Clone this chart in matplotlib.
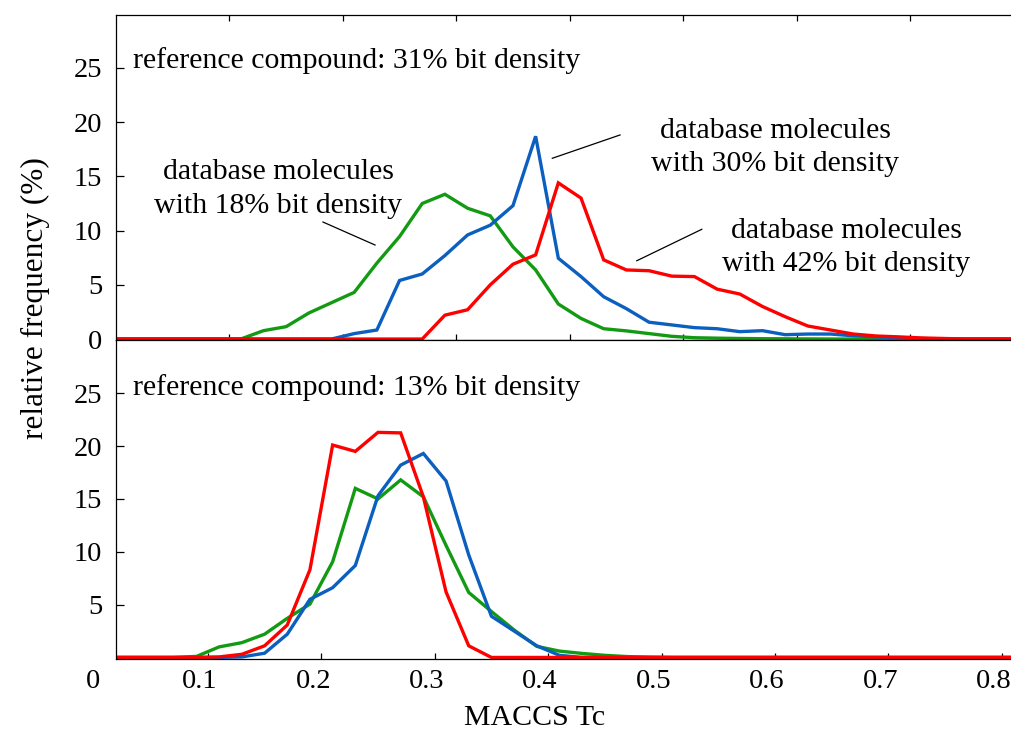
import matplotlib
matplotlib.use("Agg")
import matplotlib.pyplot as plt
from matplotlib.transforms import ScaledTranslation

plt.rcParams['font.family'] = ['Liberation Serif', 'DejaVu Serif']

# bin centres (MACCS Tc)
tc = [-0.01, 0.01, 0.03, 0.05, 0.07, 0.09, 0.11, 0.13, 0.15, 0.17, 0.19,
      0.21, 0.23, 0.25, 0.27, 0.29, 0.31, 0.33, 0.35, 0.37, 0.39,
      0.41, 0.43, 0.45, 0.47, 0.49, 0.51, 0.53, 0.55, 0.57, 0.59,
      0.61, 0.63, 0.65, 0.67, 0.69, 0.71, 0.73, 0.75, 0.77, 0.79, 0.81]

# top panel: reference compound with 31% bit density
top_18 = [0, 0, 0, 0, 0, 0, 0.0, 0.77, 1.14, 2.4, 3.35,
          4.3, 7.0, 9.45, 12.5, 13.35, 12.06, 11.36, 8.5, 6.37, 3.23,
          1.9, 0.95, 0.75, 0.5, 0.25, 0.12, 0.08, 0.05, 0.03, 0.02,
          0.01, 0, 0, 0, 0, 0, 0, 0, 0, 0, 0]
top_30 = [0, 0, 0, 0, 0, 0, 0, 0, 0, 0, 0,
          0.5, 0.83, 5.4, 6.0, 7.7, 9.6, 10.5, 12.3, 18.7, 7.45,
          5.76, 3.9, 2.8, 1.55, 1.3, 1.05, 0.95, 0.68, 0.77, 0.4,
          0.46, 0.46, 0.3, 0.2, 0.12, 0.05, 0, 0, 0, 0, 0]
top_42 = [0, 0, 0, 0, 0, 0, 0, 0, 0, 0, 0,
          0, 0, 0, 0, 2.2, 2.7, 5.0, 6.9, 7.76, 14.4,
          13.0, 7.3, 6.37, 6.3, 5.8, 5.76, 4.6, 4.15, 3.0, 2.06,
          1.2, 0.83, 0.46, 0.28, 0.2, 0.1, 0.05, 0, 0, 0, 0]

# bottom panel: reference compound with 13% bit density
bot_18 = [0, 0, 0, 0, 0, 0.1, 1.0, 1.4, 2.2, 3.7, 5.05,
          9.05, 16.0, 15.0, 16.8, 15.2, 10.6, 6.15, 4.35, 2.6, 1.05,
          0.6, 0.38, 0.2, 0.08, 0.03, 0, 0, 0, 0, 0,
          0, 0, 0, 0, 0, 0, 0, 0, 0, 0, 0]
bot_30 = [0, 0, 0, 0, 0, 0, 0, 0.05, 0.4, 2.2, 5.5,
          6.6, 8.7, 15.3, 18.2, 19.3, 16.7, 9.7, 3.9, 2.5, 1.1,
          0.2, 0, 0, 0, 0, 0, 0, 0, 0, 0,
          0, 0, 0, 0, 0, 0, 0, 0, 0, 0, 0]
bot_42 = [0, 0, 0, 0, 0, 0, 0.05, 0.3, 1.1, 3.07, 8.3,
          20.1, 19.5, 21.3, 21.25, 15.2, 6.2, 1.1, 0, 0, 0,
          0, 0, 0, 0, 0, 0, 0, 0, 0, 0,
          0, 0, 0, 0, 0, 0, 0, 0, 0, 0, 0]

xticks = [0.1, 0.2, 0.3, 0.4, 0.5, 0.6, 0.7, 0.8]
xticklabels = ['0.1', '0.2', '0.3', '0.4', '0.5', '0.6', '0.7', '0.8']
top_yticks = [0, 5, 10, 15, 20, 25]
bot_yticks = [5, 10, 15, 20, 25]

GREEN = '#139a13'
BLUE = '#0b5fbf'
RED = '#ff0000'
LW = 2.4
FS_TICK = 20.5
FS_TEXT = 21.5

W, H = 1012, 738
fig = plt.figure(figsize=(W / 100, H / 100), dpi=100)

left = 116 / W
width = 1 - left
ax_top = fig.add_axes([left, 1 - 340 / H, width, (340 - 14.5) / H])
ax_bot = fig.add_axes([left, 1 - 658.5 / H, width, (658.5 - 340) / H])

for ax, ys, xl, yl, yt in [
        (ax_top, (top_18, top_30, top_42), (0.0, 0.790), (-0.09, 29.93), top_yticks),
        (ax_bot, (bot_18, bot_30, bot_42), (0.019, 0.809), (-0.1, 30.04), bot_yticks)]:
    for y, c in zip(ys, (GREEN, BLUE, RED)):
        ax.plot(tc, y, color=c, lw=LW, solid_joinstyle='miter')
    ax.set_xlim(*xl)
    ax.set_ylim(*yl)
    ax.set_yticks(yt)
    ax.set_yticklabels([str(v) for v in yt])
    ax.spines['right'].set_visible(False)
    for s in ax.spines.values():
        s.set_linewidth(0.9)
    ax.tick_params(axis='y', direction='in', length=6, width=0.9,
                   labelsize=FS_TICK, pad=10)
    ax.tick_params(axis='x', direction='in', length=4, width=0.9,
                   labelsize=FS_TICK, pad=7.5)

ax_top.set_xticks(xticks[:7])
ax_top.tick_params(axis='x', top=True, labelbottom=False)

ax_bot.set_xticks(xticks)
ax_bot.set_xticklabels(xticklabels)
shift = ScaledTranslation(-8 / 100, 0, fig.dpi_scale_trans)
for lab in ax_bot.get_xticklabels():
    lab.set_transform(lab.get_transform() + shift)
ax_bot.annotate('0', xy=(0.0, 0.0), xycoords=('data', 'axes fraction'),
                xytext=(-1, -7.5), textcoords='offset points',
                ha='center', va='top', fontsize=FS_TICK)

# panel captions
ax_top.text(0.015, 25.65, 'reference compound: 31% bit density',
            ha='left', va='center', fontsize=FS_TEXT)
ax_bot.text(0.034, 25.5, 'reference compound: 13% bit density',
            ha='left', va='center', fontsize=FS_TEXT)

# series labels with leader lines (top panel)
LS = 1.38
ax_top.text(0.1429, 13.84, 'database molecules\nwith 18% bit density',
            ha='center', va='center', fontsize=FS_TEXT, linespacing=LS)
ax_top.text(0.5811, 17.67, 'database molecules\nwith 30% bit density',
            ha='center', va='center', fontsize=FS_TEXT, linespacing=LS)
ax_top.text(0.6437, 8.44, 'database molecules\nwith 42% bit density',
            ha='center', va='center', fontsize=FS_TEXT, linespacing=LS)
for (x0, y0), (x1, y1) in [((0.1825, 10.79), (0.2284, 8.67)),
                           ((0.4444, 18.82), (0.3847, 16.67)),
                           ((0.5165, 10.12), (0.4592, 7.22))]:
    ax_top.plot([x0, x1], [y0, y1], color='black', lw=0.9)

fig.text(35 / W, 1 - 298 / H, 'relative frequency (%)', rotation=90,
         ha='center', va='center', fontsize=22.5)
fig.text(535 / W, 1 - 718 / H, 'MACCS Tc', ha='center', va='center',
         fontsize=FS_TEXT)

fig.savefig('out.png', dpi=100)
